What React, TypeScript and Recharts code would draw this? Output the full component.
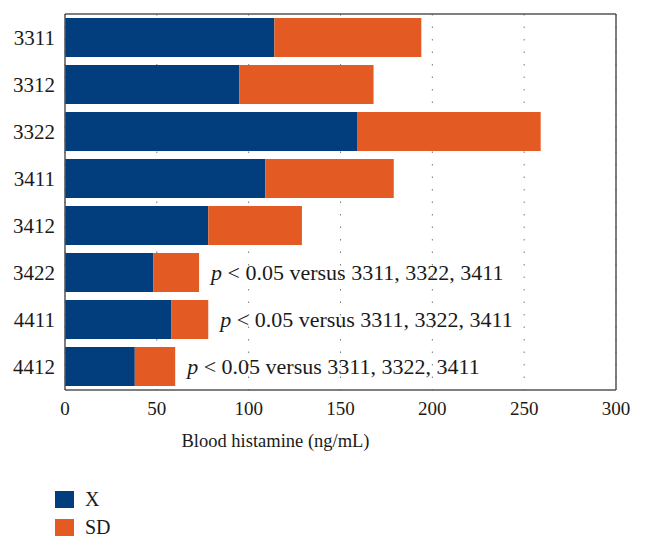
import {
	BarChart,
	Bar,
	XAxis,
	YAxis,
	CartesianGrid,
	ReferenceLine,
	LabelList,
} from "recharts"

const categories = ["3311", "3312", "3322", "3411", "3412", "3422", "4411", "4412"]
const meanValues = [114, 95, 159, 109, 78, 48, 58, 38]
const sdValues = [80, 73, 100, 70, 51, 25, 20, 22]
const noteText = "p < 0.05 versus 3311, 3322, 3411"
const notes = ["", "", "", "", "", noteText, noteText, noteText]
const xTicks = [0, 50, 100, 150, 200, 250, 300]

const BLUE = "#023E7D"
const ORANGE = "#E35B22"
const AXIS = "#555555"
const FONT = "'Liberation Serif', 'Times New Roman', serif"

const data = categories.map((name, i) => ({
	name,
	mean: meanValues[i],
	sd: sdValues[i],
	note: notes[i],
}))

function NoteLabel(props: any) {
	const { x, y, width, height, index } = props
	const note = notes[index]
	if (!note) return null
	return (
		<text
			x={x + width + 12}
			y={y + height / 2}
			dy="0.34em"
			fontFamily={FONT}
			fontSize={22}
			fill="#1a1a1a"
		>
			<tspan fontStyle="italic">{note.slice(0, 1)}</tspan>
			<tspan>{note.slice(1)}</tspan>
		</text>
	)
}

function AxisTitle(props: any) {
	const { viewBox } = props
	return (
		<text
			x={viewBox.x + viewBox.width / 2 - 65}
			y={viewBox.y + viewBox.height - 3}
			textAnchor="middle"
			fontFamily={FONT}
			fontSize={18.5}
			fill="#1a1a1a"
		>
			Blood histamine (ng/mL)
		</text>
	)
}

export default function App() {
	return (
		<div style={{ position: "absolute", left: 0, top: 0, width: 647, height: 549, background: "#fff" }}>
			<BarChart
				width={647}
				height={549}
				data={data}
				layout="vertical"
				margin={{ top: 14, right: 31, left: 0, bottom: 99 }}
				barSize={39}
			>
				<CartesianGrid
					horizontal={false}
					stroke="#777"
					strokeDasharray="1.5 11"
				/>
				<XAxis
					type="number"
					domain={[0, 300]}
					ticks={xTicks}
					height={60}
					axisLine={{ stroke: AXIS, strokeWidth: 1.5 }}
					tickLine={false}
					tickSize={0}
					tickMargin={12}
					tick={{ fontFamily: FONT, fontSize: 19, fill: "#1a1a1a" }}
					label={<AxisTitle />}
				/>
				<XAxis
					xAxisId="top"
					type="number"
					orientation="top"
					mirror
					domain={[0, 300]}
					ticks={xTicks}
					height={1}
					tick={false}
					tickSize={4}
					tickLine={{ stroke: AXIS }}
					axisLine={{ stroke: AXIS, strokeWidth: 1.5 }}
				/>
				<XAxis
					xAxisId="bticks"
					type="number"
					orientation="bottom"
					mirror
					domain={[0, 300]}
					ticks={xTicks}
					height={1}
					tick={false}
					tickSize={4}
					tickLine={{ stroke: AXIS }}
					axisLine={false}
				/>
				<YAxis
					type="category"
					dataKey="name"
					width={65}
					axisLine={{ stroke: AXIS, strokeWidth: 1.5 }}
					tickLine={false}
					tickSize={0}
					tickMargin={10}
					tick={{ fontFamily: FONT, fontSize: 21, fill: "#1a1a1a" }}
				/>
				<ReferenceLine x={300} stroke={AXIS} strokeWidth={1.5} />
				<Bar dataKey="mean" stackId="a" fill={BLUE} isAnimationActive={false} />
				<Bar dataKey="sd" stackId="a" fill={ORANGE} isAnimationActive={false}>
					<LabelList dataKey="note" content={<NoteLabel />} />
				</Bar>
			</BarChart>
			<div
				style={{
					position: "absolute",
					left: 55,
					top: 485,
					fontFamily: FONT,
					fontSize: 20,
					color: "#1a1a1a",
				}}
			>
				{[
					{ label: "X", color: BLUE },
					{ label: "SD", color: ORANGE },
				].map((item) => (
					<div key={item.label} style={{ display: "flex", alignItems: "center", height: 28 }}>
						<span style={{ display: "inline-block", width: 19, height: 17, background: item.color, marginRight: 11 }} />
						<span>{item.label}</span>
					</div>
				))}
			</div>
		</div>
	)
}
